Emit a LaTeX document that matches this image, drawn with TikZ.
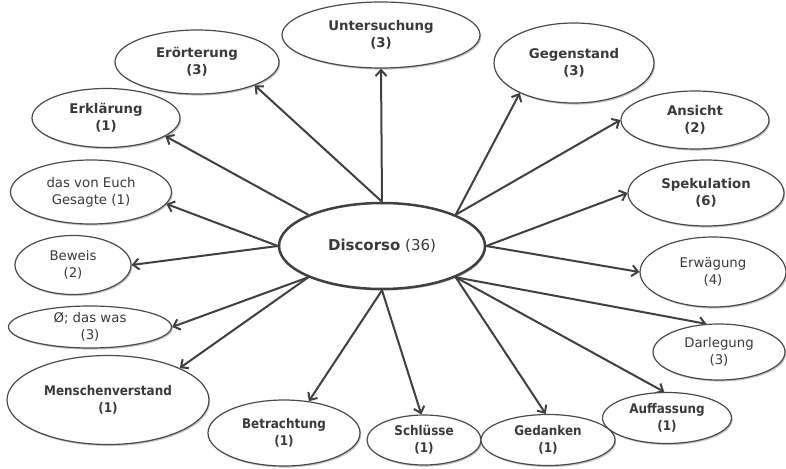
\documentclass[tikz,border=0pt]{standalone}
\usepackage{fontspec}
\setmainfont{DejaVu Sans}
\newfontfamily\medfont[FakeStretch=0.9]{DejaVu Sans}
\usetikzlibrary{shapes.geometric,arrows.meta,shadows,backgrounds}
\definecolor{txtc}{HTML}{3A3A3A}
\definecolor{edgec}{HTML}{4A4A4A}
\definecolor{arrc}{HTML}{404040}
\tikzset{
  bub/.style={ellipse, draw=edgec, line width=1.2pt, fill=white, inner sep=0pt,
    align=center, text=txtc, font=\fontsize{13.3}{17}\selectfont,
    drop shadow={shadow xshift=1.2pt, shadow yshift=-1.6pt, opacity=0.22, fill=black}},
  bb/.style={bub, font=\fontsize{13.3}{17}\selectfont\bfseries},
  mb/.style={bub, font=\fontsize{13.3}{17}\selectfont\medfont\bfseries},
  arr/.style={draw=arrc, line width=2pt, -{Straight Barb[length=6pt,width=11pt]}},
}
\begin{document}
\begin{tikzpicture}[x=1pt,y=-1pt]
\useasboundingbox (0,0) rectangle (786,468);
\node[bub, line width=2.5pt, draw=arrc, minimum width=206pt, minimum height=86pt,
  font=\fontsize{15}{18}\selectfont] (c) at (382,246) {\textbf{Discorso} (36)};
\node[bb, minimum width=198pt, minimum height=66pt] (unt) at (381,35) {Untersuchung\\(3)};
\node[bb, minimum width=164pt, minimum height=64pt] (eror) at (197,62) {Erörterung\\(3)};
\node[bb, minimum width=148pt, minimum height=59pt] (erkl) at (106,118) {Erklärung\\(1)};
\node[bub, minimum width=161pt, minimum height=64pt] (dve) at (91,192) {das von Euch\\Gesagte (1)};
\node[bub, minimum width=116pt, minimum height=59pt] (bew) at (73,265) {Beweis\\(2)};
\node[bub, minimum width=163pt, minimum height=42pt] (oe) at (90,327) {Ø; das was\\(3)};
\node[mb, minimum width=202pt, minimum height=89pt] (men) at (108,400) {Menschenverstand\\(1)};
\node[mb, minimum width=152pt, minimum height=66pt] (betr) at (284,433) {Betrachtung\\(1)};
\node[mb, minimum width=114pt, minimum height=50pt] (schl) at (424,440) {Schlüsse\\(1)};
\node[mb, minimum width=134pt, minimum height=51pt] (ged) at (548,440) {Gedanken\\(1)};
\node[mb, minimum width=129pt, minimum height=51pt] (auff) at (667,418) {Auffassung\\(1)};
\node[bub, minimum width=132pt, minimum height=56pt] (darl) at (719,352) {Darlegung\\(3)};
\node[bub, minimum width=146pt, minimum height=70pt] (erw) at (713,272) {Erwägung\\(4)};
\node[bb, minimum width=156pt, minimum height=66pt] (spek) at (706,193) {Spekulation\\(6)};
\node[bb, minimum width=148pt, minimum height=58pt] (ans) at (695,120) {Ansicht\\(2)};
\node[bb, minimum width=160pt, minimum height=80pt] (geg) at (574,63) {Gegenstand\\(3)};
\begin{scope}[on background layer]
\fill[white] (0,0) rectangle (786,468);
\draw[arr] (c.north) -- (unt.south);
\draw[arr] (c.north) -- (eror.338);
\draw[arr] (c.north west) -- (erkl.343);
\draw[arr] (c.west) -- (dve.351);
\draw[arr] (c.west) -- (bew.east);
\draw[arr] (c.south west) -- (oe.east);
\draw[arr] (c.south west) -- (men.24);
\draw[arr] (c.south) -- (betr.52);
\draw[arr] (c.south) -- (schl.96);
\draw[arr] (c.south east) -- (ged.95);
\draw[arr] (c.south east) -- (auff.96);
\draw[arr] (c.south east) -- (darl.114);
\draw[arr] (c.east) -- (erw.west);
\draw[arr] (c.east) -- (spek.west);
\draw[arr] (c.north east) -- (ans.west);
\draw[arr] (c.north east) -- (geg.209);
\end{scope}
\end{tikzpicture}
\end{document}
